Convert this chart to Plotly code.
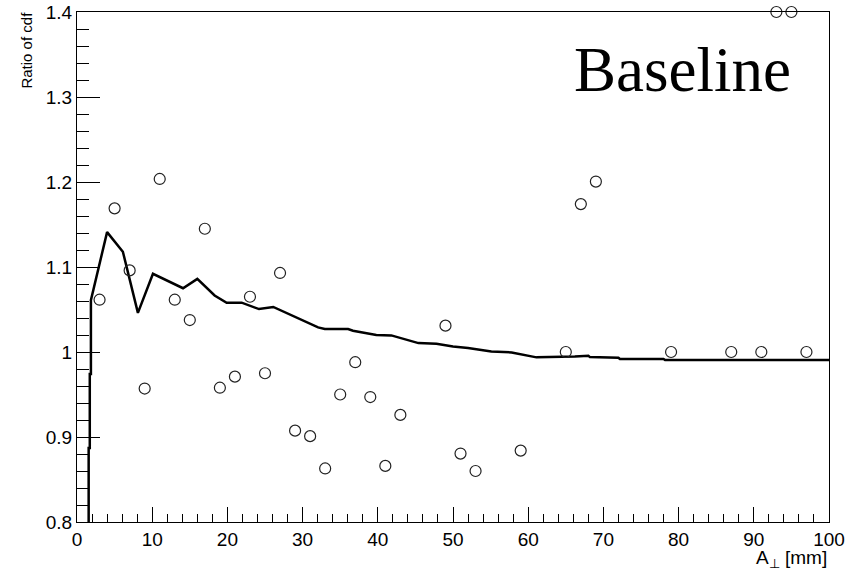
import plotly.graph_objects as go

# Open-circle points (ratio of cdf per bin)
pt_x = [3, 5, 7, 9, 11, 13, 15, 17, 19, 21, 23, 25, 27, 29, 31, 33, 35, 37, 39, 41,
        43, 49, 51, 53, 59, 65, 67, 69, 79, 87, 91, 93, 95, 97]
pt_y = [1.0615, 1.169, 1.096, 0.957, 1.2036, 1.0615, 1.0376, 1.145, 0.958, 0.971,
        1.065, 0.975, 1.093, 0.9075, 0.901, 0.863, 0.950, 0.988, 0.947, 0.866,
        0.926, 1.031, 0.8805, 0.860, 0.884, 1.0, 1.174, 1.2005, 1.0, 1.0, 1.0,
        1.4, 1.4, 1.0]

# Solid curve (cumulative ratio)
line_x = [1.55, 1.55, 1.7, 1.7, 1.85, 1.85, 4.0, 6.1, 8.1, 10.1, 14.1, 16.0, 18.3,
          19.9, 21.9, 24.2, 26.1, 31.0, 32.06, 32.95, 36.05, 36.7, 39.8, 41.8, 45.4,
          47.8, 50.0, 52.0, 55.1, 57.8, 61.1, 66.2, 68.0, 68.2, 72.0, 72.2, 78.0,
          78.2, 100]
line_y = [0.70, 0.887, 0.887, 0.974, 0.974, 1.061, 1.141, 1.118, 1.046, 1.092, 1.075,
          1.086, 1.0665, 1.058, 1.058, 1.0505, 1.053, 1.034, 1.029, 1.027, 1.027,
          1.025, 1.020, 1.0195, 1.0105, 1.0098, 1.0066, 1.0047, 1.0007, 0.9995,
          0.9937, 0.9948, 0.9957, 0.994, 0.9933, 0.9918, 0.9918, 0.9906, 0.9906]

FONT = "Liberation Sans, Arial, Helvetica, sans-serif"

fig = go.Figure()
fig.add_trace(go.Scatter(x=line_x, y=line_y, mode="lines",
                         line=dict(color="black", width=2.5), showlegend=False))
fig.add_trace(go.Scatter(x=pt_x, y=pt_y, mode="markers", cliponaxis=False,
                         marker=dict(symbol="circle-open", size=11,
                                     line=dict(color="#222", width=1.2), color="#222"),
                         showlegend=False))

fig.update_layout(
    width=858, height=571,
    margin=dict(l=77, r=29, t=12, b=48.5, autoexpand=False),
    paper_bgcolor="white", plot_bgcolor="white",
    font=dict(family=FONT, color="black", size=19),
    xaxis=dict(range=[0, 100], dtick=10, tick0=0, ticks="inside", ticklen=15,
               tickwidth=1, tickcolor="black", showgrid=False, zeroline=False,
               showline=True, linecolor="black", linewidth=1, mirror=True,
               automargin=False,
               tickfont=dict(size=19, family=FONT),
               minor=dict(dtick=2, ticks="inside", ticklen=8, tickcolor="black",
                          tickwidth=1, showgrid=False)),
    yaxis=dict(range=[0.8, 1.4], dtick=0.1, tick0=0.8, ticks="inside", ticklen=23,
               tickwidth=1, tickcolor="black", showgrid=False, zeroline=False,
               showline=True, linecolor="black", linewidth=1, mirror=True,
               automargin=False,
               tickfont=dict(size=19, family=FONT),
               minor=dict(dtick=0.02, ticks="inside", ticklen=12, tickcolor="black",
                          tickwidth=1, showgrid=False)),
    annotations=[
        dict(text="Baseline", xref="paper", yref="paper", x=0.658, y=0.886,
             xanchor="left", yanchor="middle", showarrow=False,
             font=dict(family="Liberation Serif, Times New Roman, serif", size=63,
                       color="black")),
        dict(text="A<sub>⊥</sub> [mm]", xref="paper", yref="paper", x=1.0, y=-0.046,
             xanchor="right", yanchor="top", showarrow=False,
             font=dict(family=FONT, size=19, color="black")),
        dict(text="Ratio of cdf", xref="paper", yref="paper", x=-0.067, y=1.005,
             xanchor="center", yanchor="top", textangle=-90, showarrow=False,
             font=dict(family=FONT, size=15, color="black")),
    ],
)

fig.write_html("out.html")
